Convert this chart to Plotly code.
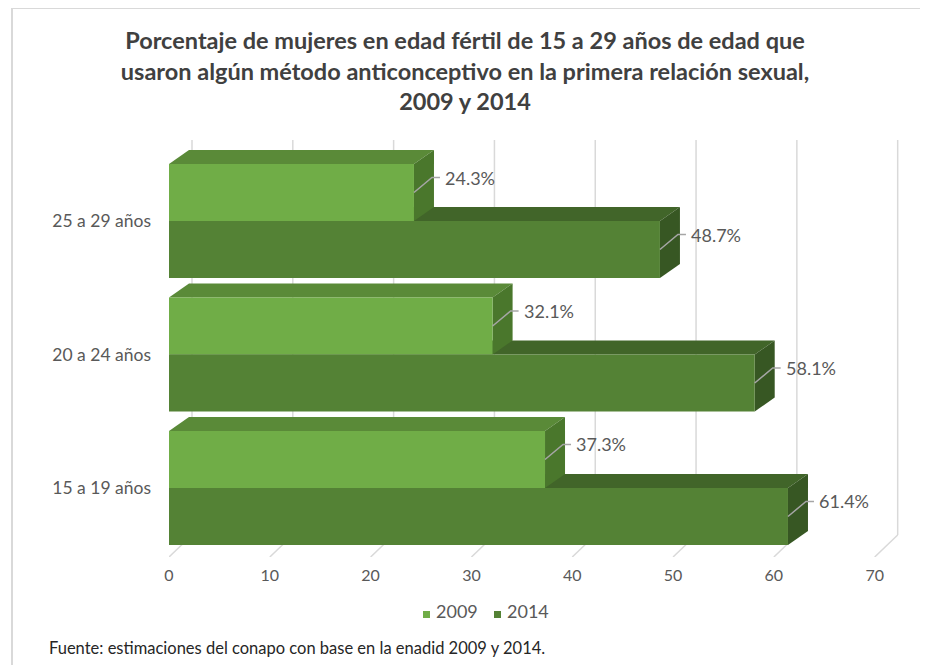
import plotly.graph_objects as go

# ---------------- data ----------------
categories = ["15 a 19 años", "20 a 24 años", "25 a 29 años"]
values_2009 = [37.3, 32.1, 24.3]
values_2014 = [61.4, 58.1, 48.7]
series_names = ["2009", "2014"]
x_ticks = [0, 10, 20, 30, 40, 50, 60, 70]

title_text = ("Porcentaje de mujeres en edad fértil de 15 a 29 años de edad que<br>"
              "usaron algún método anticonceptivo en la primera relación sexual,<br>"
              "2009 y 2014")
source_text = "Fuente: estimaciones del conapo con base en la enadid 2009 y 2014."

# ---------------- layout geometry (page pixels, page body has an 8px margin) ----------------
OFF = 8
W, H = 928 - OFF, 665 - OFF
PLOT_L, PLOT_R, PLOT_T, PLOT_B = 169 - OFF, 915 - OFF, 140 - OFF, 557 - OFF
M_L, M_R, M_T, M_B = PLOT_L, W - PLOT_R, PLOT_T, H - PLOT_B
PLOT_W = PLOT_R - PLOT_L
PLOT_H = PLOT_B - PLOT_T
X_RANGE = [0, 74.0]
Y_RANGE = [-0.517, 2.607]
PX_X = PLOT_W / (X_RANGE[1] - X_RANGE[0])   # pixels per x unit
PX_Y = PLOT_H / (Y_RANGE[1] - Y_RANGE[0])   # pixels per y unit


def dx(px):
    return px / PX_X


def dy(px):
    return px / PX_Y


def paper_x(page_x):
    return (page_x - OFF - PLOT_L) / PLOT_W


def paper_y(page_y):
    return (PLOT_B - (page_y - OFF)) / PLOT_H


BAR_W = dy(57)
BAR_DX, BAR_DY = dx(20), dy(14)       # bar depth
FLOOR_DX, FLOOR_DY = dx(23), dy(22)   # floor depth

C09_FRONT, C09_TOP, C09_SIDE = "#70AD47", "#5A8A38", "#4A772C"
C14_FRONT, C14_TOP, C14_SIDE = "#548235", "#416529", "#375723"
GRID = "#D9D9D9"
TXT = "#595959"
FONT = "Lato"

ypos = list(range(len(categories)))

fig = go.Figure()
fig.add_trace(go.Bar(
    y=ypos, x=values_2009, name=series_names[0], orientation="h",
    width=BAR_W, offset=0, marker=dict(color=C09_FRONT, line=dict(width=0)),
    hoverinfo="skip", showlegend=False))
fig.add_trace(go.Bar(
    y=ypos, x=values_2014, name=series_names[1], orientation="h",
    width=BAR_W, offset=-BAR_W, marker=dict(color=C14_FRONT, line=dict(width=0)),
    hoverinfo="skip", showlegend=False))

shapes = []
annotations = []


def poly(pts, color, layer="below"):
    path = "M " + " L ".join(f"{x},{y}" for x, y in pts) + " Z"
    return dict(type="path", path=path, xref="x", yref="y",
                fillcolor=color, line=dict(width=0), layer=layer)


# back-plane gridlines and floor diagonals
y_floor = Y_RANGE[0]
for t in x_ticks:
    shapes.append(dict(type="line", xref="x", yref="y",
                       x0=t + FLOOR_DX, x1=t + FLOOR_DX,
                       y0=y_floor + FLOOR_DY, y1=Y_RANGE[1],
                       line=dict(color=GRID, width=1.5), layer="below"))
    shapes.append(dict(type="line", xref="x", yref="y",
                       x0=t, x1=t + FLOOR_DX,
                       y0=y_floor, y1=y_floor + FLOOR_DY,
                       line=dict(color=GRID, width=1.5), layer="below"))

# 3D faces
for i, y in enumerate(ypos):
    v9, v14 = values_2009[i], values_2014[i]
    t14, b14 = y, y - BAR_W
    shapes.append(poly([(0, t14), (v14, t14), (v14 + BAR_DX, t14 + BAR_DY), (BAR_DX, t14 + BAR_DY)], C14_TOP))
    shapes.append(poly([(v14, b14), (v14, t14), (v14 + BAR_DX, t14 + BAR_DY), (v14 + BAR_DX, b14 + BAR_DY)], C14_SIDE))
    t9, b9 = y + BAR_W, y
    shapes.append(poly([(0, t9), (v9, t9), (v9 + BAR_DX, t9 + BAR_DY), (BAR_DX, t9 + BAR_DY)], C09_TOP))
    shapes.append(poly([(v9, b9), (v9, t9), (v9 + BAR_DX, t9 + BAR_DY), (v9 + BAR_DX, b9 + BAR_DY)], C09_SIDE))

# data labels with leader lines
for i, y in enumerate(ypos):
    for v, yc in ((values_2009[i], y + BAR_W / 2), (values_2014[i], y - BAR_W / 2)):
        ly = yc + dy(15)
        shapes.append(dict(type="path", xref="x", yref="y",
                           path=f"M {v},{yc} L {v + dx(18)},{ly} L {v + dx(26)},{ly}",
                           line=dict(color="#A6A6A6", width=1.5), layer="above"))
        annotations.append(dict(x=v + dx(29), y=ly, xref="x", yref="y",
                                text=f"{v:.1f}%", showarrow=False,
                                xanchor="left", yanchor="middle",
                                font=dict(family=FONT, size=18, color=TXT)))

# legend (small squares next to series names)
legend_items = [(series_names[0], C09_FRONT, 423), (series_names[1], C14_FRONT, 494)]
for name, color, px0 in legend_items:
    shapes.append(dict(type="rect", xref="paper", yref="paper",
                       x0=paper_x(px0), x1=paper_x(px0 + 7),
                       y0=paper_y(618), y1=paper_y(611),
                       fillcolor=color, line=dict(width=0)))
    annotations.append(dict(x=paper_x(px0 + 11), y=paper_y(611), xref="paper", yref="paper",
                            text=name, showarrow=False, xanchor="left", yanchor="middle",
                            font=dict(family=FONT, size=18, color=TXT)))

# outer frame (top and left edges)
fx, fy = paper_x(12), paper_y(8)
shapes.append(dict(type="line", xref="paper", yref="paper", x0=fx, x1=paper_x(940),
                   y0=fy, y1=fy, line=dict(color="#D9D9D9", width=2)))
shapes.append(dict(type="line", xref="paper", yref="paper", x0=fx, x1=fx,
                   y0=fy, y1=paper_y(680), line=dict(color="#D9D9D9", width=2)))

# source note
annotations.append(dict(x=paper_x(47), y=paper_y(648),
                        xref="paper", yref="paper", text=source_text, showarrow=False,
                        xanchor="left", yanchor="middle",
                        font=dict(family=FONT, size=16.5, color="#262626")))

fig.update_layout(
    width=W, height=H,
    margin=dict(l=M_L, r=M_R, t=M_T, b=M_B, autoexpand=False),
    paper_bgcolor="white", plot_bgcolor="white",
    barmode="overlay",
    showlegend=False,
    title=dict(text=title_text, x=(465 - OFF) / W, xref="container", xanchor="center",
               y=1 - 41 / H, yref="container", yanchor="top",
               font=dict(family=FONT, size=23.5, color="#404040", weight="bold")),
    xaxis=dict(range=X_RANGE, tickvals=x_ticks, showgrid=False, zeroline=False,
               showline=False, ticks="", ticklabelstandoff=7, automargin=False,
               tickfont=dict(family=FONT, size=16, color=TXT), fixedrange=True),
    yaxis=dict(range=Y_RANGE, tickvals=ypos, ticktext=categories, showgrid=False,
               zeroline=False, showline=False, ticks="", ticklabelstandoff=17, automargin=False,
               tickfont=dict(family=FONT, size=17.5, color=TXT), fixedrange=True),
    shapes=shapes, annotations=annotations,
    hovermode=False,
)

fig.write_html("out.html")
